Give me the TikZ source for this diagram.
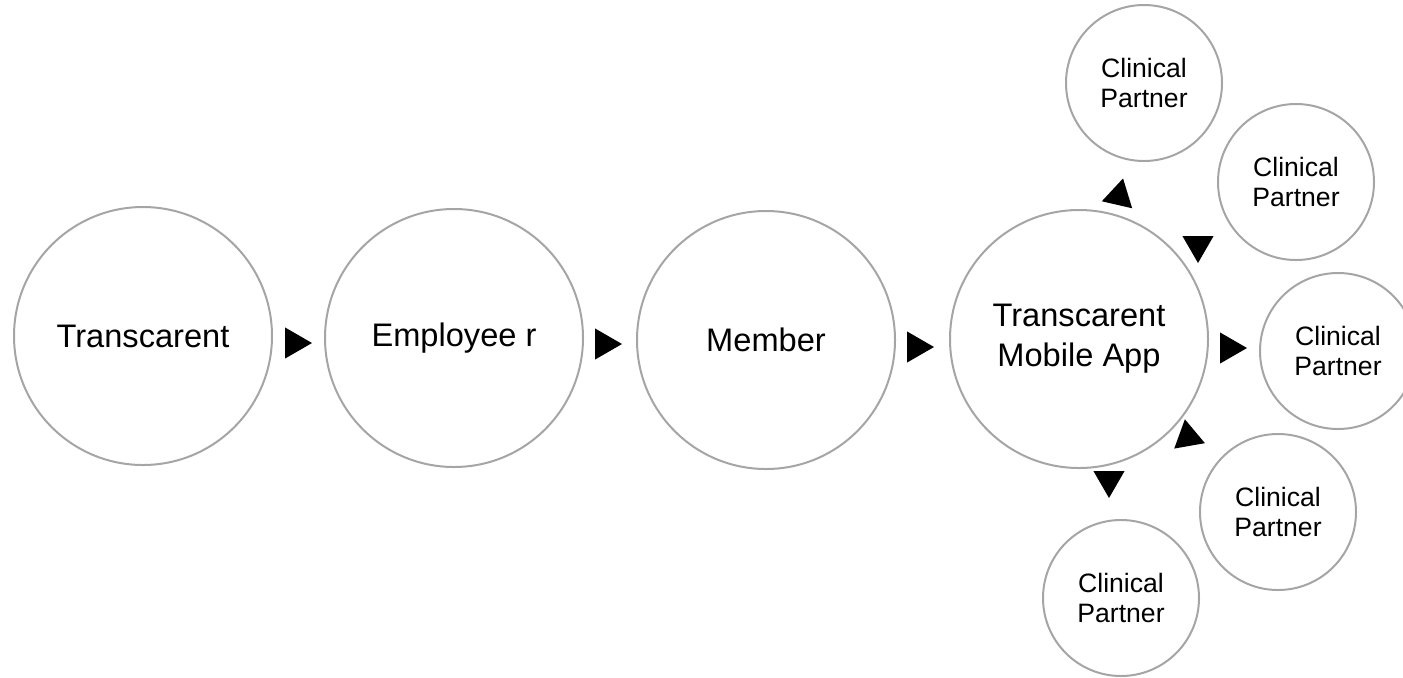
\documentclass[tikz,border=0pt]{standalone}
\usepackage{fontspec}
\setmainfont{Liberation Sans}
\usetikzlibrary{shapes.geometric}

\definecolor{ringgray}{RGB}{165,165,165}

\begin{document}
\begin{tikzpicture}[x=0.5pt, y=-0.5pt,
  big/.style={draw=ringgray, line width=1pt, circle, minimum size=129pt, inner sep=0pt, align=center, font=\fontsize{16.3pt}{20pt}\selectfont},
  small/.style={draw=ringgray, line width=1pt, circle, minimum size=78pt, inner sep=0pt, align=center, font=\fontsize{13.3pt}{15pt}\selectfont},
  tip/.style={fill=black, regular polygon, regular polygon sides=3, minimum size=18pt, inner sep=0pt}]
\useasboundingbox (0,0) rectangle (1403,677);
\node[big] (t1) at (143,336) {Transcarent};
\node[big] (e1) at (454,338) {Employee r};
\node[big] (m1) at (766,340) {Member};
\node[big] (app) at (1079,339) {Transcarent\\Mobile App};
\node[small] (p1) at (1144,83) {Clinical\\Partner};
\node[small] (p2) at (1296,182) {Clinical\\Partner};
\node[small] (p3) at (1338,351) {Clinical\\Partner};
\node[small] (p4) at (1278,512) {Clinical\\Partner};
\node[small] (p5) at (1121,598) {Clinical\\Partner};
\node[tip, rotate=-90] (a1) at (294,343) {};
\node[tip, rotate=-90] (a2) at (604,344) {};
\node[tip, rotate=-90] (a3) at (916,347) {};
\node[tip, rotate=-90] (a4) at (1229,348) {};
\node[tip, rotate=-13] (a5) at (1119,196) {};
\node[tip, rotate=180] (a6) at (1198,245) {};
\node[tip, rotate=10] (a7) at (1188,437) {};
\node[tip, rotate=180] (a8) at (1109,480) {};
\end{tikzpicture}
\end{document}
